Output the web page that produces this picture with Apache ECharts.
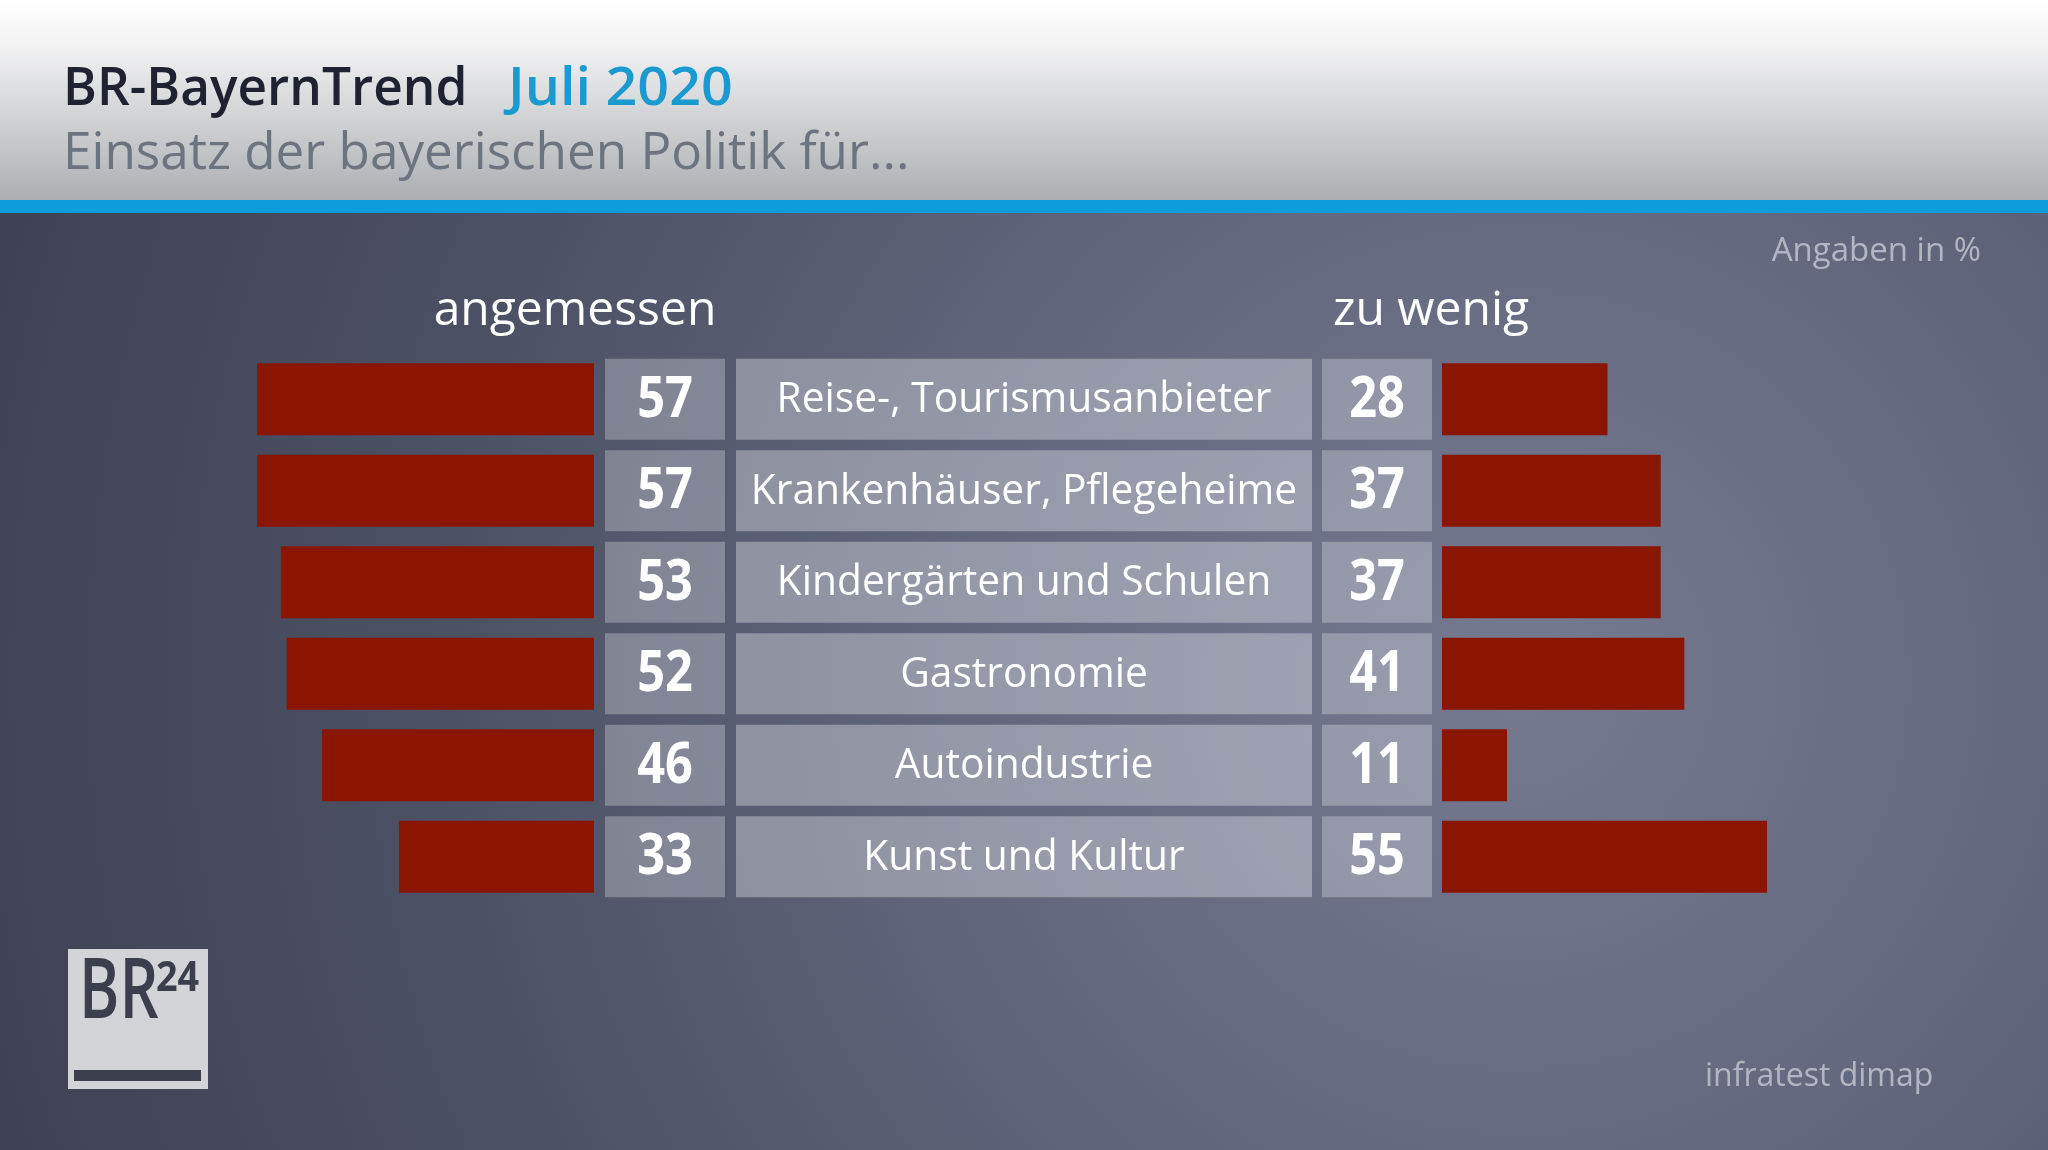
<!DOCTYPE html>
<html>
<head>
<meta charset="utf-8">
<script src="https://cdn.jsdelivr.net/npm/echarts@6/dist/echarts.min.js"></script>
<style>
html,body{margin:0;padding:0;background:#3c404f;}
#chart{width:2048px;height:1150px;}
</style>
</head>
<body>
<div id="chart"></div>
<script>
// ---- data ----
const categories = ['Reise-, Tourismusanbieter', 'Krankenhäuser, Pflegeheime', 'Kindergärten und Schulen', 'Gastronomie', 'Autoindustrie', 'Kunst und Kultur'];
const angemessen = [57, 57, 53, 52, 46, 33];
const zuWenig = [28, 37, 37, 41, 11, 55];
const seriesNames = ['angemessen', 'zu wenig'];
const titleText = 'BR-BayernTrend';
const dateText = 'Juli 2020';
const subtitleText = 'Einsatz der bayerischen Politik für...';
const unitText = 'Angaben in %';
const sourceText = 'infratest dimap';

// ---- layout ----
const FONT = '"Open Sans", "Noto Sans", sans-serif';
const TOP = 353.5, HEIGHT = 549;
const PX_PER_UNIT = 5.91, AXMAX = 60;
const BAR_W = 72, BOX_RATIO = 81 / 91.5;
const BAR_COLOR = '#8a1500';

const chart = echarts.init(document.getElementById('chart'), null, {renderer: 'canvas'});

function grid(left, width) { return {left: left, width: width, top: TOP, height: HEIGHT, containLabel: false}; }
const gridDefs = [
  grid(594 - AXMAX * PX_PER_UNIT, AXMAX * PX_PER_UNIT), // left bars
  grid(605, 120),   // left number box
  grid(736, 576),   // label box
  grid(1322, 110),  // right number box
  grid(1442, AXMAX * PX_PER_UNIT) // right bars
];

const xAxes = gridDefs.map((g, i) => ({
  type: 'value', gridIndex: i, min: 0, max: (i === 0 || i === 4) ? AXMAX : 1,
  inverse: i === 0, show: false
}));
const yAxes = gridDefs.map((g, i) => ({
  type: 'category', gridIndex: i, data: categories, inverse: true, show: false
}));

function boxRenderer(alpha, textOf, fontSize, fontWeight, scaleX) {
  return function (params, api) {
    const cs = params.coordSys;
    const idx = api.value(1);
    const yc = api.coord([0, idx])[1];
    const bh = api.size([0, 1])[1] * BOX_RATIO;
    return {
      type: 'group',
      children: [
        {type: 'rect', shape: {x: cs.x, y: yc - bh / 2, width: cs.width, height: bh},
         style: {fill: 'rgba(255,255,255,' + alpha + ')'}},
        {type: 'text', x: cs.x + cs.width / 2, y: yc + fontSize * 0.02, scaleX: scaleX, scaleY: 1,
         style: {text: textOf(params.dataIndex), fill: '#ffffff', fontSize: fontSize,
                 fontWeight: fontWeight, fontFamily: FONT, align: 'center', verticalAlign: 'middle'}}
      ]
    };
  };
}

// place text so that its baseline lands at y (Open Sans, middle alignment)
function midY(baseline, fs) { return baseline - 0.327 * fs; }

const option = {
  animation: false,
  grid: gridDefs,
  xAxis: xAxes,
  yAxis: yAxes,
  graphic: [
    // body background
    {type: 'rect', z: -100, silent: true, shape: {x: 0, y: 0, width: 2048, height: 1150},
     style: {fill: new echarts.graphic.RadialGradient(1520, 680, 1650, [
       {offset: 0, color: '#757a91'}, {offset: 0.3, color: '#646980'},
       {offset: 0.65, color: '#4d5165'}, {offset: 1, color: '#3c404f'}], true)}},
    // header
    {type: 'rect', z: -90, silent: true, shape: {x: 0, y: 0, width: 2048, height: 200},
     style: {fill: new echarts.graphic.LinearGradient(0, 0, 0, 1, [
       {offset: 0, color: '#ffffff'}, {offset: 0.2, color: '#f4f4f5'},
       {offset: 1, color: '#acafb2'}])}},
    {type: 'rect', z: -90, silent: true, shape: {x: 0, y: 200, width: 2048, height: 13},
     style: {fill: '#0e9cda'}},
    {type: 'text', x: 63, y: midY(107, 53), scaleX: 0.97, style: {text: titleText, fill: '#1f2230', fontSize: 53, fontWeight: 600, fontFamily: FONT, verticalAlign: 'middle'}},
    {type: 'text', x: 508, y: midY(107, 53), scaleX: 1.05, style: {text: dateText, fill: '#1b9ad0', fontSize: 53, fontWeight: 600, fontFamily: FONT, verticalAlign: 'middle'}},
    {type: 'text', x: 63, y: midY(171, 52), scaleX: 0.985, style: {text: subtitleText, fill: '#6c7480', fontSize: 52, fontWeight: 400, fontFamily: FONT, verticalAlign: 'middle'}},
    // column headers
    {type: 'text', x: 575, y: midY(327, 48), style: {text: seriesNames[0], fill: '#ffffff', fontSize: 48, fontFamily: FONT, align: 'center', verticalAlign: 'middle'}},
    {type: 'text', x: 1431, y: midY(327, 48), style: {text: seriesNames[1], fill: '#ffffff', fontSize: 48, fontFamily: FONT, align: 'center', verticalAlign: 'middle'}},
    // unit + source
    {type: 'text', x: 1981, y: midY(262, 33), style: {text: unitText, fill: '#b3b6c2', fontSize: 33, fontFamily: FONT, align: 'right', verticalAlign: 'middle'}},
    {type: 'text', x: 1705, y: midY(1087, 32), style: {text: sourceText, fill: '#b3b6c2', fontSize: 32, fontFamily: FONT, align: 'left', verticalAlign: 'middle'}},
    // BR24 logo
    {type: 'group', left: 68, top: 949, children: [
      {type: 'rect', shape: {x: 0, y: 0, width: 140, height: 140}, style: {fill: '#d3d4d8'}},
      {type: 'text', x: 11, y: midY(73, 84), scaleX: 0.73, style: {text: 'BR', fill: '#3a3e4d', fontSize: 84, fontWeight: 600, fontFamily: FONT, verticalAlign: 'middle'}},
      {type: 'text', x: 88, y: midY(44, 42), scaleX: 0.9, style: {text: '24', fill: '#3a3e4d', fontSize: 42, fontWeight: 700, fontFamily: FONT, verticalAlign: 'middle'}},
      {type: 'rect', shape: {x: 6, y: 121, width: 127, height: 11}, style: {fill: '#3a3e4d'}}
    ]}
  ],
  series: [
    {type: 'bar', name: seriesNames[0], xAxisIndex: 0, yAxisIndex: 0, data: angemessen,
     barWidth: BAR_W, itemStyle: {color: BAR_COLOR}, silent: true},
    {type: 'custom', xAxisIndex: 1, yAxisIndex: 1,
     data: angemessen.map((v, i) => [v, categories[i]]), encode: {x: 0, y: 1},
     renderItem: boxRenderer(0.27, i => String(angemessen[i]), 58, 700, 0.84)},
    {type: 'custom', xAxisIndex: 2, yAxisIndex: 2,
     data: categories.map((c) => [0, c]), encode: {x: 0, y: 1},
     renderItem: boxRenderer(0.33, i => categories[i], 42, 400, 0.97)},
    {type: 'custom', xAxisIndex: 3, yAxisIndex: 3,
     data: zuWenig.map((v, i) => [v, categories[i]]), encode: {x: 0, y: 1},
     renderItem: boxRenderer(0.27, i => String(zuWenig[i]), 58, 700, 0.84)},
    {type: 'bar', name: seriesNames[1], xAxisIndex: 4, yAxisIndex: 4, data: zuWenig,
     barWidth: BAR_W, itemStyle: {color: BAR_COLOR}, silent: true}
  ]
};
chart.setOption(option);
</script>
</body>
</html>
